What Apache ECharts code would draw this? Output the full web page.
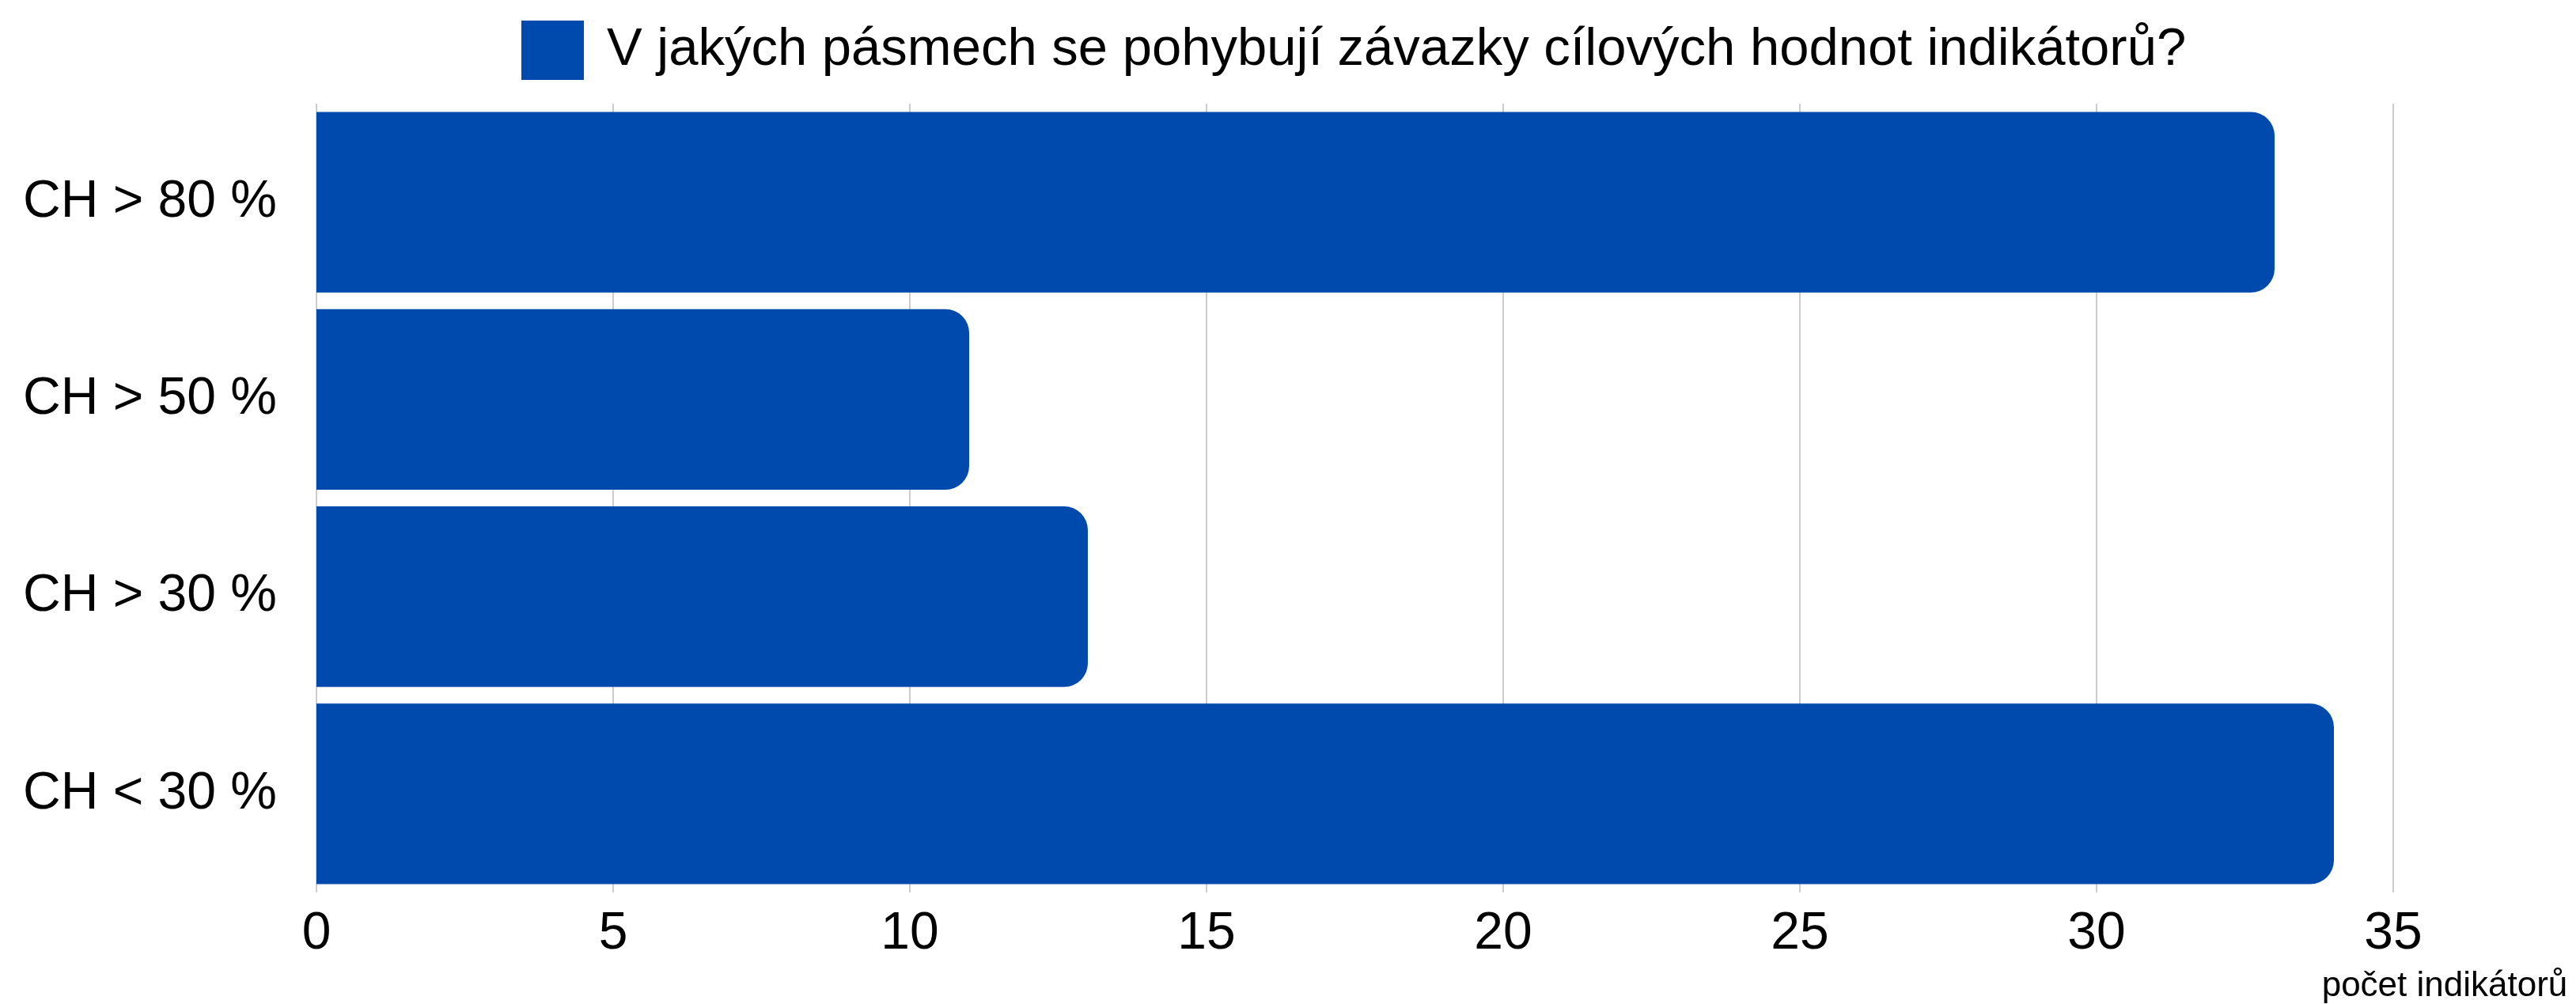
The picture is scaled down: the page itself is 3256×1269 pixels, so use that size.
<!DOCTYPE html>
<html>
<head>
<meta charset="utf-8">
<script src="https://cdn.jsdelivr.net/npm/echarts@6/dist/echarts.min.js"></script>
<style>
  html, body { margin: 0; padding: 0; background: #fff; }
  #chart { width: 3256px; height: 1269px; }
</style>
</head>
<body>
<div id="chart"></div>
<script>
var categories = ['CH > 80 %', 'CH > 50 %', 'CH > 30 %', 'CH < 30 %'];
var values = [33, 11, 13, 34];
var seriesName = 'V jakých pásmech se pohybují závazky cílových hodnot indikátorů?';
var axisName = 'počet indikátorů';

var chart = echarts.init(document.getElementById('chart'));

var font = '"Liberation Sans", Arial, sans-serif';

var option = {
  textStyle: { fontFamily: font },
  legend: {
    left: 654,
    top: 21,
    itemWidth: 79,
    itemHeight: 75,
    icon: 'rect',
    textStyle: {
      fontSize: 67,
      color: '#000',
      fontFamily: font,
      padding: [0, 0, 0, 24]
    },
    data: [seriesName]
  },
  grid: {
    left: 400,
    right: 231,
    top: 131,
    bottom: 141,
    containLabel: false
  },
  xAxis: {
    type: 'value',
    min: 0,
    max: 35,
    interval: 5,
    name: axisName,
    nameLocation: 'end',
    nameGap: 65,
    nameTextStyle: {
      fontSize: 44,
      color: '#000',
      fontFamily: font,
      align: 'center',
      verticalAlign: 'top',
      padding: [97, 0, 0, 0]
    },
    axisLine: { show: false },
    axisTick: { show: false },
    axisLabel: {
      fontSize: 66,
      color: '#000',
      fontFamily: font,
      margin: 20
    },
    splitLine: {
      show: true,
      lineStyle: { color: '#cccccc', width: 2 }
    }
  },
  yAxis: {
    type: 'category',
    inverse: true,
    data: categories,
    axisLine: { show: false },
    axisTick: { show: false },
    axisLabel: {
      fontSize: 66,
      color: '#000',
      fontFamily: font,
      margin: 50
    }
  },
  series: [{
    name: seriesName,
    type: 'bar',
    data: values,
    barCategoryGap: '8.4%',
    itemStyle: {
      color: '#004aad',
      borderRadius: [0, 30, 30, 0]
    }
  }]
};

chart.setOption(option);
</script>
</body>
</html>
